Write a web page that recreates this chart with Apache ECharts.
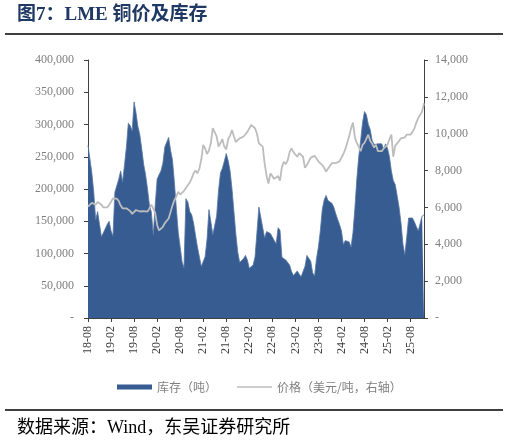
<!DOCTYPE html>
<html><head><meta charset="utf-8">
<script src="https://cdn.jsdelivr.net/npm/echarts/dist/echarts.min.js"></script>
<style>html,body{margin:0;padding:0;background:#fff}#c{width:509px;height:444px}</style>
</head><body><div id="c"></div>
<script>
// half-month steps starting 2018-08
const stepMonths = 0.5;
const xTickLabels = ['18-08','19-02','19-08','20-02','20-08','21-02','21-08','22-02','22-08','23-02','23-08','24-02','24-08','25-02','25-08'];
// LME copper inventory, thousand tonnes
const inventoryKt = [
268,265,225,195,152,165,145,126,132,135,
145,150,135,127,195,197,215,228,211,237,
265,302,298,290,335,318,297,284,262,238,
222,200,175,164,129,175,215,222,228,240,
265,262,280,260,245,210,170,133,110,87,
78,185,180,165,160,147,128,110,95,80,
78,95,122,168,149,129,132,158,198,225,
232,243,255,244,228,200,165,130,102,86,
83,92,97,90,77,74,82,95,133,172,
170,140,124,134,133,131,130,120,115,140,
136,94,91,90,87,82,72,66,68,73,
68,64,63,80,97,97,88,70,65,92,
110,135,168,183,190,182,180,178,172,162,
153,145,135,114,120,123,118,110,132,170,
215,250,275,303,320,315,300,292,275,269,
271,270,270,270,262,270,263,250,228,213,
207,190,172,148,115,98,125,155,157,155,
149,142,135,134,158,160];
// LME copper price, USD/t
const price = [
6040,6000,6250,6200,6150,6300,6220,6150,6000,5900,
6000,6130,6310,6490,6420,6480,6350,6100,5950,5860,
5950,5900,5800,5650,5750,5860,5770,5780,5820,5800,
5900,5770,5950,6150,6250,5700,5050,4750,4650,4950,
5150,5250,5400,5750,6100,6400,6600,6850,6700,6800,
6900,7000,7200,7350,7580,7850,8000,7850,8100,8600,
9390,9200,8900,9100,9500,10300,10200,9850,9300,9250,
9700,9300,9150,9700,9900,10200,9850,9550,9500,9750,
9700,9850,9950,10100,10000,10470,10400,10300,10000,9480,
9550,9300,8400,7700,7300,7850,7800,7550,7500,7700,
7450,8200,8480,8350,8550,9000,9200,9000,8900,8750,
8950,8850,8750,8150,8300,8400,8700,8600,8800,8850,
8500,8400,8300,8150,7950,8050,8250,8400,8500,8400,
8500,8500,8600,8900,9150,9500,9850,10290,10600,9800,
9500,9300,9050,9390,9500,9400,9950,9600,9450,9250,
9400,9050,8950,9050,9200,9300,9400,9700,9950,8750,
9350,9450,9600,9750,9850,9800,9950,9900,9950,10100,
10290,10600,10850,10850,11200,11650];
const seriesNames = ['库存（吨）','价格（美元/吨，右轴）'];

const serif = '"Liberation Serif","Times New Roman","Noto Sans CJK SC",serif';
const cjk = '"Noto Sans CJK SC",sans-serif';
const fmt = v => v === 0 ? '-' : v.toLocaleString('en-US');
const invData = inventoryKt.map((v,i)=>[i*stepMonths, v*1000]);
const priceData = price.map((v,i)=>[i*stepMonths, v]);
const axisCol = '#404040';
const lineIcon = 'path://M0,0h0.01v5h-0.01z M0,1.7h35v1.6h-35z';

const chart = echarts.init(document.getElementById('c'));
chart.setOption({
  animation:false,
  backgroundColor:'#fff',
  grid:{left:88,right:85,top:60,bottom:126,containLabel:false},
  legend:{
    left:112, top:376, itemGap:20, itemWidth:35, itemHeight:5,
    textStyle:{color:'#7f7f7f',fontSize:12,fontFamily:cjk},
    data:[{name:seriesNames[0],icon:'rect'},{name:seriesNames[1],icon:lineIcon}]
  },
  xAxis:{
    type:'value', min:0, max:(price.length-1)*stepMonths, interval:6,
    axisLine:{show:true,lineStyle:{color:axisCol,width:1}},
    axisTick:{show:true,length:4,lineStyle:{color:axisCol}},
    splitLine:{show:false},
    axisLabel:{rotate:90,margin:8,fontSize:12,color:'#404040',fontFamily:serif,
      showMaxLabel:false,
      formatter:v=>{const i=Math.round(v/6); return (Math.abs(v-i*6)<1e-6 && xTickLabels[i])?xTickLabels[i]:'';}}
  },
  yAxis:[{
    type:'value', min:0, max:400000, interval:50000, position:'left',
    axisLine:{show:true,lineStyle:{color:axisCol,width:1}},
    axisTick:{show:true,length:4,lineStyle:{color:axisCol}},
    splitLine:{show:false},
    axisLabel:{margin:14,fontSize:12,color:'#7f7f7f',fontFamily:serif,formatter:fmt}
  },{
    type:'value', min:0, max:14000, interval:2000, position:'right',
    axisLine:{show:true,lineStyle:{color:axisCol,width:1}},
    axisTick:{show:true,length:4,lineStyle:{color:axisCol}},
    splitLine:{show:false},
    axisLabel:{margin:11,fontSize:12,color:'#7f7f7f',fontFamily:serif,formatter:fmt}
  }],
  series:[{
    name:seriesNames[0], type:'line', yAxisIndex:0, data:invData,
    symbol:'none', smooth:false,
    lineStyle:{width:0.8,color:'#5676A3'},
    itemStyle:{color:'#375C91'},
    areaStyle:{color:'#375C91',opacity:1}
  },{
    name:seriesNames[1], type:'line', yAxisIndex:1, data:priceData,
    symbol:'none', smooth:false,
    lineStyle:{width:1.8,color:'#BDBDBD'},
    itemStyle:{color:'#BDBDBD'}
  }],
  graphic:[
    {type:'text',left:17,top:6,style:{text:'图7：LME 铜价及库存',fill:'#1F3864',font:'bold 19px '+serif}},
    {type:'line',shape:{x1:5,y1:34,x2:503,y2:34},style:{stroke:'#000',lineWidth:1.5}},
    {type:'line',shape:{x1:5,y1:410,x2:503,y2:410},style:{stroke:'#000',lineWidth:1.5}},
    {type:'text',left:17,top:419,style:{text:'数据来源：Wind，东吴证券研究所',fill:'#000',font:'18px '+serif}}
  ]
});
</script></body></html>
